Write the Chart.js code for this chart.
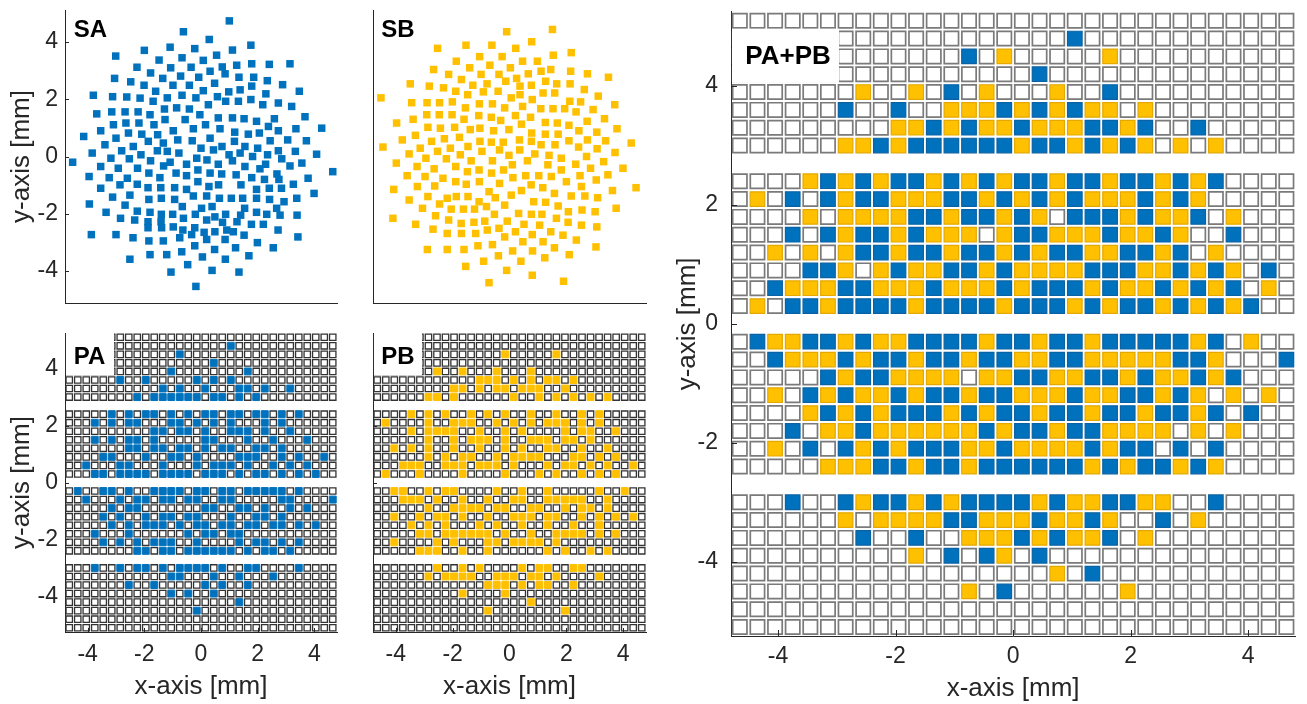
<!DOCTYPE html>
<html>
<head>
<meta charset="utf-8">
<script src="https://cdn.jsdelivr.net/npm/chart.js@4.4.0/dist/chart.umd.min.js"></script>
<style>
  html, body { margin: 0; padding: 0; background: #fff; }
  #wrap { position: relative; width: 1307px; height: 704px; overflow: hidden; }
  canvas { position: absolute; }
</style>
</head>
<body>
<div id="wrap">
  <canvas id="sa" width="345" height="310" style="left:0;top:0"></canvas>
  <canvas id="sb" width="310" height="310" style="left:345px;top:0"></canvas>
  <canvas id="pa" width="345" height="384" style="left:0;top:320px"></canvas>
  <canvas id="pb" width="310" height="384" style="left:345px;top:320px"></canvas>
  <canvas id="pp" width="657" height="704" style="left:650px;top:0"></canvas>
</div>
<script>
// SA sample positions [mm]
const saX = [
  1.00, -0.62, 0.29, 1.76, -1.09, -0.22, 1.11, -2.00, 0.55, -3.01,
  -0.67, -1.48, 0.08, 1.79, 2.41, 3.14, 1.26, 0.75, -2.26, -0.35,
  -1.07, 0.32, -1.78, 0.85, -0.72, -0.08, 1.34, 1.86, -1.35, -3.05,
  2.34, -2.48, 0.48, 2.88, -2.01, -0.99, -0.41, 1.79, 1.38, 0.08,
  3.47, -1.60, 0.98, 2.29, -3.80, -0.67, 0.58, -3.12, -2.62, -2.15,
  -0.18, -1.19, 1.76, -1.69, 1.32, 0.87, 2.73, 2.18, 0.26, 3.20,
  -0.86, -1.29, -0.41, -3.15, -2.68, -2.22, -3.68, -0.04, -1.80, 3.67,
  1.11, 0.61, 1.52, 2.59, -1.27, -0.56, 1.96, -2.19, -2.65, -3.09,
  -1.66, 0.16, 2.38, 4.26, 3.35, -0.27, 0.67, -3.54, -0.98, 2.73,
  1.19, 2.06, -2.56, 1.67, -2.09, -1.53, -4.14, -3.00, 0.32, -0.82,
  3.06, -0.31, 2.44, 3.72, -1.86, 1.18, -1.33, -3.39, -2.39, 0.74,
  1.55, 0.00, 2.00, 0.44, -2.80, -1.54, 2.73, -1.19, 3.33, -3.84,
  -0.78, 1.38, 4.08, -2.12, 0.99, 2.35, 1.82, -3.18, -0.15, -2.53,
  2.85, 0.21, -1.78, 1.11, -4.53, -1.09, 3.56, 0.61, -0.51, 2.28,
  -1.32, 3.14, -3.54, 1.55, -2.92, -2.24, 2.08, -0.11, 4.65, 0.32,
  -0.88, -1.84, 2.68, 0.73, 1.24, -0.51, -3.95, -3.24, -1.45, 1.79,
  -2.60, 3.78, 2.24, 2.75, -0.11, -2.25, 3.26, -2.86, 0.62, 1.41,
  0.28, -1.87, -1.42, -0.93, -3.54, 2.41, 2.84, -0.51, 1.96, 3.99,
  -2.51, -0.27, 0.20, -3.12, -1.40, 1.07, 1.96, 1.47, 0.65, 3.38,
  -1.84, 2.42, -0.93, 2.93, -3.94, -2.68, 0.39, -0.66, 1.54, 2.67,
  0.02, -2.25, -3.35, 1.96, -1.80, -1.40, -1.00, 0.87, 2.32, -0.20,
  3.39, 1.40, 2.79, 0.49, -0.62, -2.84, -2.34, 0.20, -1.87, -1.41,
  1.27, 0.76, 2.20, 1.78, -0.98, -1.87, -1.39, -0.22, -0.64, 2.72,
  0.91, 1.14, 0.49, 0.11, -3.87, -3.00, -0.33, 1.52, 3.42, -0.75,
  -2.40, 0.20, 0.85, -1.84, -1.33, 1.99, -0.22, 1.22, 2.55, 0.48,
  -0.68, -1.80, -1.21, 1.69, 0.05, -2.51, 0.86, -0.47, 0.39, -1.06,
  1.34, -0.18
];
const saY = [
  4.74, 4.36, 4.09, 3.89, 3.82, 3.77, 3.72, 3.71, 3.54, 3.51,
  3.45, 3.37, 3.36, 3.24, 3.22, 3.24, 3.19, 3.13, 3.12, 3.12,
  3.10, 2.98, 2.92, 2.89, 2.81, 2.77, 2.77, 2.77, 2.73, 2.73,
  2.65, 2.61, 2.56, 2.51, 2.49, 2.49, 2.49, 2.46, 2.33, 2.30,
  2.28, 2.28, 2.26, 2.19, 2.14, 2.14, 2.09, 2.09, 2.08, 2.04,
  2.05, 2.05, 1.99, 1.93, 1.93, 1.93, 1.87, 1.81, 1.81, 1.75,
  1.70, 1.66, 1.66, 1.56, 1.56, 1.56, 1.49, 1.46, 1.46, 1.39,
  1.35, 1.35, 1.32, 1.32, 1.29, 1.29, 1.23, 1.17, 1.17, 1.11,
  1.11, 1.11, 1.05, 0.99, 0.97, 0.97, 0.97, 0.90, 0.90, 0.90,
  0.85, 0.82, 0.82, 0.78, 0.78, 0.76, 0.70, 0.64, 0.64, 0.58,
  0.58, 0.55, 0.55, 0.55, 0.53, 0.53, 0.47, 0.41, 0.35, 0.35,
  0.35, 0.29, 0.29, 0.23, 0.20, 0.20, 0.20, 0.18, 0.18, 0.12,
  0.12, 0.12, 0.08, 0.06, 0.06, 0.06, 0.00, -0.06, -0.06, -0.08,
  -0.08, -0.12, -0.15, -0.15, -0.20, -0.20, -0.23, -0.27, -0.27, -0.27,
  -0.33, -0.33, -0.35, -0.35, -0.41, -0.41, -0.43, -0.47, -0.53, -0.58,
  -0.58, -0.58, -0.61, -0.61, -0.64, -0.67, -0.70, -0.74, -0.74, -0.74,
  -0.76, -0.76, -0.80, -0.80, -0.88, -0.97, -0.97, -0.99, -0.99, -0.99,
  -1.05, -1.09, -1.09, -1.09, -1.11, -1.11, -1.11, -1.15, -1.15, -1.29,
  -1.35, -1.38, -1.38, -1.42, -1.46, -1.46, -1.46, -1.46, -1.46, -1.46,
  -1.50, -1.50, -1.50, -1.58, -1.66, -1.70, -1.75, -1.75, -1.81, -1.81,
  -1.81, -1.91, -1.95, -1.95, -1.95, -2.02, -2.02, -2.02, -2.02, -2.02,
  -2.05, -2.05, -2.05, -2.11, -2.16, -2.16, -2.22, -2.22, -2.28, -2.28,
  -2.28, -2.30, -2.37, -2.37, -2.46, -2.49, -2.49, -2.49, -2.57, -2.57,
  -2.57, -2.63, -2.63, -2.65, -2.73, -2.73, -2.73, -2.75, -2.81, -2.84,
  -2.84, -2.90, -2.90, -2.95, -2.95, -3.01, -3.12, -3.19, -3.19, -3.25,
  -3.33, -3.43, -3.43, -3.47, -3.51, -3.59, -3.59, -3.78, -3.98, -4.04,
  -4.04, -4.54
];

// SB sample positions [mm]
const sbX = [
  1.51, -0.10, 0.78, -1.53, -0.62, -2.53, 0.22, 2.17, 1.54, -1.05,
  -0.26, -1.87, 0.46, 0.98, -0.69, -1.40, 0.03, -2.67, 1.45, 1.11,
  2.15, 0.66, 2.74, -2.14, -1.00, -0.37, 3.48, 0.25, -1.69, -0.13,
  1.27, -3.49, -0.79, 1.66, 2.13, -1.29, 0.77, -2.82, 0.37, -2.32,
  2.63, -1.89, -0.40, -0.92, 1.18, 1.59, -1.47, 0.37, 3.12, -4.52,
  0.06, 0.80, 2.12, -2.01, 2.50, -3.44, -2.90, -2.46, -1.06, -0.60,
  3.70, 0.46, -1.55, -0.17, 1.10, 1.53, 1.94, 2.94, 2.34, -2.91,
  -2.47, -2.02, -1.08, 0.21, -0.64, 0.74, 3.34, -3.39, -1.60, -0.31,
  2.73, 1.26, -3.97, 1.68, 0.42, 2.09, -2.87, -1.93, -2.43, -1.04,
  3.78, -0.02, -1.38, -0.56, 2.44, 3.07, 0.78, 1.26, 1.71, -3.31,
  -1.76, -2.29, -3.77, 0.35, 2.74, 2.09, 3.38, -2.74, -1.04, 0.77,
  -0.64, -0.22, 4.28, 1.11, 1.60, -1.46, -4.45, 2.43, -3.14, -2.08,
  3.08, -0.35, 0.36, -2.53, -0.97, 3.71, -3.53, 0.89, -1.73, -0.02,
  1.39, 2.71, -2.94, 1.82, -2.22, -1.35, -0.60, 0.63, 3.31, -3.98,
  2.33, 1.35, 0.10, -3.25, -1.89, 2.85, 3.99, -2.65, -1.07, -0.21,
  1.82, -1.48, -0.63, 3.46, -3.60, 0.57, 1.03, 2.48, -2.97, 1.47,
  0.12, -2.34, 3.05, -1.89, -1.06, 2.00, -0.35, -1.52, 0.76, -2.63,
  -3.24, 2.53, 1.17, 4.45, -4.07, 0.42, 3.62, -0.72, 1.58, 0.06,
  2.17, 2.65, -2.87, -1.87, -1.46, -0.50, 3.10, -2.19, -3.53, -1.07,
  0.85, 1.27, -2.46, -0.17, 1.71, -0.81, -3.06, 3.75, -2.05, -1.62,
  -1.23, 2.55, 2.07, 3.01, 0.32, -0.53, 0.77, 1.14, -2.60, -4.10,
  1.65, -2.14, -0.87, -0.08, -1.25, 2.06, -1.70, -3.30, 0.51, 1.06,
  2.53, 3.07, -0.37, -2.69, -0.78, 0.21, 1.45, -2.19, -1.69, -1.19,
  0.80, 1.88, -0.17, 2.35, 0.47, 1.18, -0.60, -1.11, 3.04, 1.58,
  -2.89, -2.19, -1.60, 0.11, 0.81, 2.10, -0.39, 1.24, -0.91, 0.40,
  -1.54, -0.10, 0.80, 1.90, -0.72
];
const sbY = [
  4.44, 4.36, 4.01, 3.89, 3.89, 3.78, 3.78, 3.63, 3.54, 3.49,
  3.49, 3.33, 3.33, 3.33, 3.19, 3.10, 3.10, 3.04, 3.04, 2.98,
  2.98, 2.89, 2.89, 2.87, 2.87, 2.87, 2.77, 2.73, 2.69, 2.63,
  2.63, 2.54, 2.54, 2.54, 2.54, 2.49, 2.49, 2.46, 2.46, 2.40,
  2.34, 2.28, 2.28, 2.26, 2.22, 2.22, 2.16, 2.16, 2.11, 2.05,
  2.05, 1.99, 1.93, 1.91, 1.91, 1.88, 1.88, 1.88, 1.84, 1.84,
  1.81, 1.75, 1.70, 1.70, 1.67, 1.67, 1.67, 1.64, 1.56, 1.46,
  1.46, 1.46, 1.43, 1.43, 1.37, 1.37, 1.32, 1.30, 1.30, 1.26,
  1.23, 1.19, 1.17, 1.17, 1.13, 1.09, 1.02, 1.02, 0.99, 0.99,
  0.97, 0.94, 0.94, 0.90, 0.90, 0.85, 0.82, 0.78, 0.78, 0.74,
  0.67, 0.62, 0.58, 0.58, 0.58, 0.55, 0.55, 0.53, 0.53, 0.53,
  0.50, 0.50, 0.47, 0.41, 0.41, 0.35, 0.33, 0.33, 0.29, 0.29,
  0.27, 0.23, 0.23, 0.18, 0.18, 0.14, 0.09, 0.09, 0.06, 0.04,
  0.04, 0.00, -0.06, -0.06, -0.08, -0.15, -0.15, -0.15, -0.18, -0.23,
  -0.27, -0.29, -0.29, -0.35, -0.35, -0.41, -0.41, -0.43, -0.47, -0.47,
  -0.47, -0.53, -0.58, -0.64, -0.67, -0.67, -0.67, -0.67, -0.70, -0.70,
  -0.74, -0.76, -0.82, -0.88, -0.88, -0.88, -0.94, -0.97, -0.99, -1.03,
  -1.05, -1.05, -1.09, -1.09, -1.15, -1.19, -1.19, -1.23, -1.29, -1.35,
  -1.38, -1.38, -1.40, -1.40, -1.40, -1.44, -1.44, -1.46, -1.52, -1.58,
  -1.58, -1.60, -1.66, -1.70, -1.73, -1.75, -1.81, -1.81, -1.84, -1.84,
  -1.84, -1.87, -1.93, -1.93, -1.99, -2.02, -2.02, -2.02, -2.07, -2.16,
  -2.16, -2.22, -2.26, -2.26, -2.30, -2.30, -2.34, -2.37, -2.37, -2.40,
  -2.40, -2.46, -2.51, -2.54, -2.57, -2.63, -2.63, -2.69, -2.69, -2.69,
  -2.73, -2.75, -2.81, -2.92, -2.98, -2.98, -3.08, -3.12, -3.16, -3.19,
  -3.25, -3.25, -3.25, -3.30, -3.30, -3.43, -3.47, -3.54, -3.66, -3.66,
  -3.84, -3.98, -4.15, -4.36, -4.41
];

// pixel grid: column / row centres [mm]
const colCenters = [-4.65, -4.35, -4.05, -3.75, -3.45, -3.15, -2.85, -2.55,
  -2.25, -1.95, -1.65, -1.35, -1.05, -0.75, -0.45, -0.15,
  0.15, 0.45, 0.75, 1.05, 1.35, 1.65, 1.95, 2.25,
  2.55, 2.85, 3.15, 3.45, 3.75, 4.05, 4.35, 4.65];
const rowCenters = [5.1, 4.8, 4.5, 4.2, 3.9, 3.6, 3.3, 3.0,
  2.4, 2.1, 1.8, 1.5, 1.2, 0.9, 0.6, 0.3,
  -0.3, -0.6, -0.9, -1.2, -1.5, -1.8, -2.1, -2.4,
  -3.0, -3.3, -3.6, -3.9, -4.2, -4.5, -4.8, -5.1];
// cell state per row (top to bottom): . empty, b = PA hit, y = PB hit
const gridRows = [
  "........ ........ ........ ........",
  "........ ........ ...b.... ........",
  "........ .....b.y .....y.. ........",
  "........ ........ .b...... ........",
  ".......y ..y.b.y. ..y..b.. ........",
  "......b. .b..yyyb ybybyy.y ........",
  "........ .yybybyy byyybbyb ..b.....",
  "......yy bybbbbbb ybbybyby .y.y....",
  "....ybyb ybbybyby bbybbybb ybyb....",
  ".y.b.byb byyybbyb ybybyyyb yby.....",
  "....y.yy yybbybby by.bbbyb yyb.y...",
  "...b.byb bybyyy.y bbyyybyy by..b...",
  "..y.y.yb bybbybby bybbyybb yb.y....",
  "....bby. ybyybbyb yyyybbby ybyby.b.",
  "..byyybb yyybyyyb ybbbybyy bybyb.y.",
  ".y.bbybb bbybbbby bbbybybb ybybyb..",
  ".byybbyb yybbbbyb bybbybbb bbyb.y..",
  "..byyyby bbybbybb yybbyyyy ybby...b",
  ".....byb byyyy.yy bbyybbyb yybyb...",
  "..y.byby ybybbybb yyybyybb yby.y.y.",
  "....ybyb ybbbybyb bybbybby bbyb.b..",
  "...b.yyb yyyyyyby bbybbyyy y.y.y...",
  "..y.b.by bybbbyyb yyyybybb .b.b....",
  ".....yyy bbybbybb bbbbybyb byby....",
  "...b..by bbybybbb bybyybby y..b....",
  "......y. yyyybbyy ybyyby.. b.y.....",
  ".......b ..b..yyy bybyyb.y ........",
  "........ ..y.b.by .b...... ........",
  "........ ........ ..y.b... ........",
  "........ .....y.b ......y. ........",
  "........ ........ ........ ........",
  "........ ........ ........ ........"
];

const ink = '#262626';
const blue = '#0072BD';
const yellow = '#FFC000';
const fam = '"Liberation Sans", Arial, Helvetica, sans-serif';
const tickFont = { family: fam, size: 23 };
const titleFont = { family: fam, size: 26 };

function cells(test) {
  const pts = [];
  gridRows.forEach((row, r) => {
    const s = row.replace(/ /g, '');
    for (let c = 0; c < s.length; c++) {
      if (test(s[c])) pts.push({ x: colCenters[c], y: rowCenters[r] });
    }
  });
  return pts;
}

function pointsOf(xs, ys) {
  const n = Math.min(xs.length, ys.length);
  const out = [];
  for (let i = 0; i < n; i++) out.push({ x: xs[i], y: ys[i] });
  return out;
}

function markSet(data, fill, border, r, bw) {
  return {
    data: data, pointStyle: 'rect', pointRadius: r, pointHoverRadius: r,
    pointBackgroundColor: fill, pointBorderColor: border, pointBorderWidth: bw,
    showLine: false, clip: false
  };
}

// MATLAB style ticks pointing into the axes
const inwardTicks = {
  id: 'inwardTicks',
  afterDatasetsDraw(chart, args, o) {
    const { ctx, chartArea: a, scales } = chart;
    ctx.save();
    ctx.strokeStyle = ink;
    ctx.lineWidth = 1;
    if (o.x) {
      scales.x.ticks.forEach(t => {
        const p = Math.round(scales.x.getPixelForValue(t.value)) + 0.5;
        ctx.beginPath(); ctx.moveTo(p, a.bottom); ctx.lineTo(p, a.bottom - o.len); ctx.stroke();
      });
    }
    if (o.y) {
      scales.y.ticks.forEach(t => {
        const p = Math.round(scales.y.getPixelForValue(t.value)) + 0.5;
        ctx.beginPath(); ctx.moveTo(a.left, p); ctx.lineTo(a.left + o.len, p); ctx.stroke();
      });
    }
    ctx.restore();
  }
};

const panelLabel = {
  id: 'panelLabel',
  afterDatasetsDraw(chart, args, o) {
    const { ctx, chartArea: a } = chart;
    ctx.save();
    if (o.box) {
      ctx.fillStyle = '#fff';
      ctx.fillRect(a.left + o.box[0], a.top + o.box[1], o.box[2], o.box[3]);
    }
    ctx.font = 'bold ' + o.size + 'px ' + fam;
    ctx.fillStyle = '#000';
    ctx.textAlign = 'center';
    ctx.textBaseline = 'middle';
    ctx.fillText(o.text, a.left + o.cx, a.top + o.cy);
    ctx.restore();
  }
};

function makeScales(o) {
  return {
    x: {
      type: 'linear', min: -4.8, max: 4.8,
      afterFit: s => { s.height = o.xh; s.paddingLeft = 0; s.paddingRight = 0; },
      grid: { display: false, drawTicks: false },
      border: { display: true, color: ink, width: 1 },
      ticks: { display: !!o.xLabels, stepSize: 2, includeBounds: false, padding: o.xPad || 0,
        color: ink, font: tickFont, maxRotation: 0 },
      title: { display: !!o.xLabels, text: 'x-axis [mm]', color: ink, font: titleFont,
        padding: { top: 0, bottom: o.xTitlePad || 0 } }
    },
    y: {
      type: 'linear', min: o.ymin, max: o.ymax,
      afterFit: s => { s.width = o.yw; s.paddingTop = 0; s.paddingBottom = 0; },
      grid: { display: false, drawTicks: false },
      border: { display: true, color: ink, width: 1 },
      ticks: { display: !!o.yLabels, stepSize: 2, includeBounds: false, padding: o.yPad || 0,
        color: ink, font: tickFont },
      title: { display: !!o.yLabels, text: 'y-axis [mm]', color: ink, font: titleFont,
        padding: { top: o.yTitlePad || 0, bottom: 0 } }
    }
  };
}

function makeChart(id, datasets, o, label, ticks) {
  return new Chart(document.getElementById(id), {
    type: 'scatter',
    data: { datasets: datasets },
    options: {
      responsive: false, animation: false, devicePixelRatio: 1, events: [],
      layout: { padding: o.pad },
      plugins: { legend: { display: false }, tooltip: { enabled: false },
        panelLabel: label, inwardTicks: ticks },
      scales: makeScales(o)
    },
    plugins: [inwardTicks, panelLabel]
  });
}

// top row: sample positions
makeChart('sa', [markSet(pointsOf(saX, saY), blue, blue, 5.3, 0)],
  { pad: { left: 0, top: 10, right: 8, bottom: 0 }, xh: 7, yw: 65, ymin: -5.12, ymax: 5.12,
    yLabels: true, yPad: 7, yTitlePad: 6 },
  { text: 'SA', size: 24, cx: 25.5, cy: 20 }, { y: true, len: 4 });

makeChart('sb', [markSet(pointsOf(sbX, sbY), yellow, yellow, 5.3, 0)],
  { pad: { left: 0, top: 10, right: 9, bottom: 0 }, xh: 7, yw: 28, ymin: -5.12, ymax: 5.12 },
  { text: 'SB', size: 24, cx: 25, cy: 20 }, {});

// bottom row: pixel maps
const smallEmpty = '#333333';
makeChart('pa', [
    markSet(cells(c => c !== 'b'), '#fff', smallEmpty, 4.5, 1.3),
    markSet(cells(c => c === 'b'), blue, blue, 4.9, 1)
  ],
  { pad: { left: 0, top: 13, right: 8, bottom: 0 }, xh: 72, yw: 65, ymin: -5.25, ymax: 5.25,
    xLabels: true, yLabels: true, xPad: 9, xTitlePad: 2, yPad: 7, yTitlePad: 6 },
  { text: 'PA', size: 24, cx: 24.5, cy: 24, box: [1, 0, 48, 42] }, { x: true, y: true, len: 4 });

makeChart('pb', [
    markSet(cells(c => c !== 'y'), '#fff', smallEmpty, 4.5, 1.3),
    markSet(cells(c => c === 'y'), yellow, yellow, 4.9, 1)
  ],
  { pad: { left: 0, top: 13, right: 9, bottom: 0 }, xh: 72, yw: 28, ymin: -5.25, ymax: 5.25,
    xLabels: true, xPad: 9, xTitlePad: 2 },
  { text: 'PB', size: 24, cx: 25, cy: 24, box: [1, 0, 48, 42] }, { x: true, y: true, len: 4 });

makeChart('pp', [
    markSet(cells(c => c === '.'), '#fff', '#7a7a7a', 10.1, 1.7),
    markSet(cells(c => c === 'b'), blue, '#0a62a3', 10.3, 1.2),
    markSet(cells(c => c === 'y'), yellow, '#e3a900', 10.3, 1.2)
  ],
  { pad: { left: 0, top: 10, right: 2, bottom: 0 }, xh: 68, yw: 81, ymin: -5.25, ymax: 5.25,
    xLabels: true, yLabels: true, xPad: 7, xTitlePad: 0, yPad: 13, yTitlePad: 22 },
  { text: 'PA+PB', size: 26, cx: 57, cy: 45, box: [1, 17, 107, 54] }, { x: true, y: true, len: 6 });
</script>
</body>
</html>
